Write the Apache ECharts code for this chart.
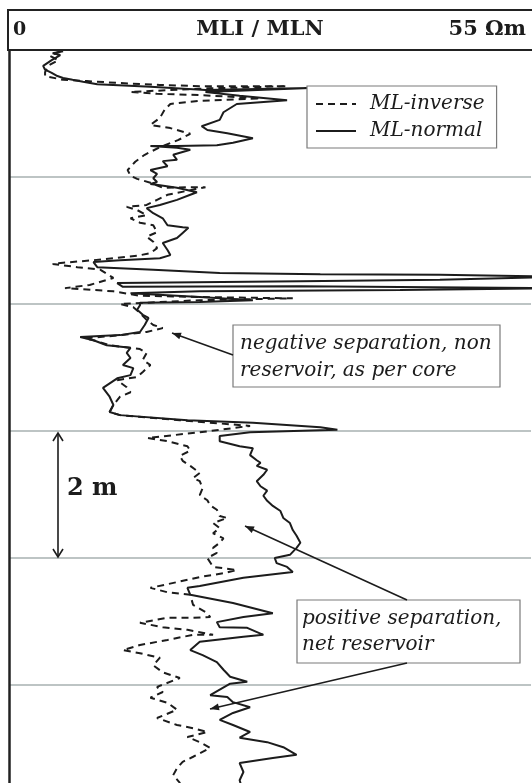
<!DOCTYPE html>
<html>
<head>
<meta charset="utf-8">
<script src="https://cdn.jsdelivr.net/npm/echarts@6/dist/echarts.min.js"></script>
<style>
  html, body { margin: 0; padding: 0; background: #fff; }
  #chart { width: 532px; height: 783px; }
</style>
</head>
<body>
<div id="chart"></div>
<script>
// Micro-resistivity log: ML-inverse (MLI) and ML-normal (MLN), 0-55 ohm.m, depth in metres from top of track
const trackMin = 0;
const trackMax = 55;
const depthTop = 0;
const depthBottom = 12;
const depthStep = 2;

const mlnDepth = [0.02,0.05,0.08,0.16,0.25,0.31,0.36,0.41,0.44,0.47,0.50,0.54,0.58,0.63,0.60,0.66,0.72,0.79,0.85,0.98,
  1.10,1.20,1.26,1.31,1.39,1.46,1.50,1.51,1.51,1.54,1.57,1.65,1.73,1.75,1.83,1.89,1.95,2.02,2.08,2.11,
  2.13,2.17,2.24,2.28,2.36,2.44,2.49,2.57,2.65,2.76,2.79,2.80,2.88,2.96,3.04,3.15,3.23,3.28,3.31,3.34,
  3.42,3.46,3.51,3.53,3.54,3.57,3.62,3.64,3.67,3.73,3.72,3.75,3.78,3.80,3.83,3.89,3.94,3.97,3.98,4.02,
  4.09,4.17,4.22,4.33,4.44,4.49,4.52,4.57,4.65,4.69,4.77,4.85,4.96,5.01,5.12,5.17,5.32,5.46,5.59,5.70,
  5.75,5.83,5.87,5.94,5.98,6.02,6.08,6.16,6.24,6.27,6.38,6.46,6.50,6.55,6.61,6.69,6.79,6.87,6.94,7.02,
  7.10,7.18,7.26,7.37,7.45,7.56,7.65,7.76,7.84,7.95,8.00,8.08,8.14,8.22,8.31,8.44,8.47,8.58,8.71,8.87,
  8.93,9.01,9.09,9.10,9.21,9.24,9.32,9.45,9.53,9.64,9.76,9.87,9.95,9.98,10.16,10.19,10.27,10.35,10.44,10.55,
  10.63,10.74,10.83,10.90,10.98,11.10,11.15,11.23,11.37,11.50,11.65];
const mlnValue = [5.7,4.6,5.4,4.5,3.6,3.8,4.5,5.1,5.7,6.7,7.8,9.3,14.9,20.7,31.7,20.7,24.3,29.3,24.0,22.6,
  22.2,20.3,20.9,23.0,25.7,23.6,21.9,17.7,14.9,17.7,19.1,17.3,17.7,16.2,16.7,14.9,15.6,15.2,15.6,14.9,
  15.9,17.7,19.8,19.1,17.7,15.9,14.5,15.2,16.2,16.7,18.3,18.9,18.3,17.7,16.2,16.7,17.0,15.9,11.7,8.9,
  9.3,15.2,22.2,32.8,45.4,58.0,45.4,30.7,11.4,12.0,30.7,58.0,41.2,20.1,12.8,20.1,25.7,20.1,13.8,13.8,
  13.5,14.1,14.7,14.3,13.8,11.7,7.5,8.9,10.3,12.8,12.4,12.8,12.0,13.1,12.8,11.4,9.9,10.6,11.0,10.6,
  11.7,18.8,25.7,32.8,34.6,25.4,22.2,22.2,24.3,25.7,25.4,26.1,26.5,26.1,27.2,26.8,26.1,26.5,27.2,26.8,
  27.2,27.8,28.6,28.9,29.6,29.9,30.3,30.7,30.3,29.6,28.0,28.2,29.3,29.9,24.7,20.1,18.8,19.1,23.6,27.8,
  24.7,21.9,22.2,25.1,26.8,24.7,20.1,19.1,20.4,21.9,22.6,23.3,25.1,23.3,21.2,23.0,23.6,25.4,23.6,22.2,
  23.6,25.4,24.3,27.2,28.9,30.3,27.8,24.3,24.7,24.3,24.6];

const mliDepth = [0.02,0.09,0.16,0.25,0.35,0.41,0.47,0.49,0.52,0.55,0.57,0.57,0.57,0.61,0.66,0.69,0.71,0.76,0.80,0.85,
  0.94,1.07,1.18,1.23,1.32,1.42,1.53,1.65,1.76,1.89,1.98,2.03,2.09,2.17,2.16,2.16,2.28,2.36,2.44,2.47,
  2.52,2.60,2.65,2.72,2.76,2.87,2.94,3.02,3.12,3.20,3.24,3.31,3.35,3.37,3.42,3.46,3.59,3.70,3.75,3.80,
  3.87,3.89,3.91,3.94,3.97,4.00,4.05,4.14,4.25,4.33,4.38,4.44,4.49,4.54,4.58,4.65,4.71,4.77,4.88,4.96,
  5.07,5.15,5.20,5.31,5.39,5.46,5.59,5.70,5.75,5.83,5.92,6.02,6.11,6.16,6.24,6.31,6.39,6.47,6.55,6.66,
  6.74,6.79,6.90,7.01,7.09,7.17,7.24,7.34,7.37,7.45,7.53,7.61,7.69,7.76,7.84,7.92,8.00,8.14,8.19,8.24,
  8.30,8.38,8.47,8.54,8.58,8.74,8.87,8.93,8.94,8.94,9.02,9.09,9.13,9.21,9.21,9.29,9.37,9.45,9.50,9.57,
  9.69,9.80,9.89,10.03,10.11,10.20,10.28,10.39,10.52,10.63,10.68,10.74,10.82,10.90,10.99,11.13,11.21,11.31,11.42,11.54,
  11.65];
const mliValue = [5.4,4.3,5.2,4.1,3.8,3.8,5.7,8.2,11.7,15.9,20.1,25.7,29.3,20.1,12.8,15.6,20.1,26.5,20.1,17.0,
  16.4,15.9,14.9,17.0,19.1,17.8,15.9,14.3,13.3,12.5,12.8,13.5,14.9,16.2,18.8,20.7,16.7,15.6,14.5,12.4,
  13.5,14.5,12.8,13.8,15.2,15.6,14.5,15.2,15.6,14.9,13.5,8.9,5.7,4.6,7.2,9.6,11.0,8.5,5.9,11.0,
  13.8,20.1,29.9,20.1,15.9,11.7,13.1,13.8,14.5,15.2,16.2,14.5,11.9,8.0,9.1,10.6,13.8,14.5,14.1,14.9,
  14.1,13.5,11.4,12.4,12.8,11.7,11.0,10.6,11.7,18.0,25.4,20.1,14.6,16.7,18.8,19.1,18.0,18.3,19.1,20.1,
  19.4,20.1,20.4,20.1,20.9,21.2,21.9,22.2,23.0,21.5,22.2,21.5,22.6,22.2,21.5,21.9,20.9,21.5,24.0,22.6,
  20.1,17.7,14.9,16.7,19.1,19.4,20.9,21.2,19.4,16.7,13.8,16.2,18.8,21.5,19.4,16.7,13.8,12.0,13.8,15.9,
  15.2,16.2,18.0,15.6,16.2,14.9,16.7,17.7,15.6,17.7,19.4,20.9,18.8,20.1,21.2,19.4,18.3,17.7,17.3,18.0,
  17.8];

const seriesNames = ['ML-inverse', 'ML-normal'];
const headerLeft = '0';
const headerTitle = 'MLI / MLN';
const headerRight = '55 Ωm';
const scaleLabel = '2 m';
const noteNegative = ['negative separation, non', 'reservoir, as per core'];
const notePositive = ['positive separation,', 'net reservoir'];

const pairs = (vals, depths) => vals.map((v, i) => [v, depths[i]]);

const serif = "'DejaVu Serif', 'Liberation Serif', serif";
const ink = '#1c1c1c';

const chart = echarts.init(document.getElementById('chart'), null, { renderer: 'canvas' });

const gridLeft = 9, gridTop = 50, gridWidth = 522, gridHeight = 762;

function arrowHead(tipX, tipY, fromX, fromY, len, half) {
  const ang = Math.atan2(tipY - fromY, tipX - fromX);
  const bx = tipX - len * Math.cos(ang), by = tipY - len * Math.sin(ang);
  const px = -Math.sin(ang) * half, py = Math.cos(ang) * half;
  return [[tipX, tipY], [bx + px, by + py], [bx - px, by - py]];
}

function noteArrow(x1, y1, x2, y2) {
  return [
    { type: 'line', shape: { x1, y1, x2, y2 }, style: { stroke: ink, lineWidth: 1.6 }, z: 20 },
    { type: 'polygon', shape: { points: arrowHead(x2, y2, x1, y1, 9, 3.5) }, style: { fill: ink }, z: 20 }
  ];
}

function noteBox(x, y, w, h, lines, tx, lineGap, size) {
  const els = [{ type: 'rect', shape: { x, y, width: w, height: h },
    style: { fill: '#fff', stroke: '#7a7a7a', lineWidth: 1.2 }, z: 18 }];
  lines.forEach((t, i) => {
    els.push({ type: 'text', x: tx, y: y + 19 + i * lineGap, z: 19,
      style: { text: t, font: 'italic ' + size + 'px ' + serif, fill: ink, textVerticalAlign: 'middle' } });
  });
  return els;
}

const graphics = [
  // header panel
  { type: 'rect', shape: { x: 8, y: 10, width: 540, height: 40 }, style: { fill: '#fff', stroke: '#222', lineWidth: 2 }, z: 30 },
  { type: 'text', x: 13, y: 30, z: 31, style: { text: headerLeft, font: 'bold 19px ' + serif, fill: ink, textVerticalAlign: 'middle' } },
  { type: 'text', x: 260, y: 30, z: 31, style: { text: headerTitle, font: 'bold 21px ' + serif, fill: ink, textAlign: 'center', textVerticalAlign: 'middle' } },
  { type: 'text', x: 526, y: 30, z: 31, style: { text: headerRight, font: 'bold 21px ' + serif, fill: ink, textAlign: 'right', textVerticalAlign: 'middle' } },
  // 2 m scale bar
  { type: 'line', shape: { x1: 58, y1: 433, x2: 58, y2: 557 }, style: { stroke: ink, lineWidth: 1.6 }, z: 20 },
  { type: 'polyline', shape: { points: [[53, 441], [58, 433], [63, 441]] }, style: { stroke: ink, lineWidth: 1.6, fill: null }, z: 20 },
  { type: 'polyline', shape: { points: [[53, 549], [58, 557], [63, 549]] }, style: { stroke: ink, lineWidth: 1.6, fill: null }, z: 20 },
  { type: 'text', x: 67, y: 489, z: 20, style: { text: scaleLabel, font: 'bold 24px ' + serif, fill: ink, textVerticalAlign: 'middle' } },
  ...noteBox(233, 325, 267, 62, noteNegative, 240, 27, 20),
  ...noteArrow(233, 355, 172, 333),
  ...noteBox(297, 600, 223, 63, notePositive, 302, 26, 20),
  ...noteArrow(407, 600, 245, 526),
  ...noteArrow(407, 663, 210, 709)
];

chart.setOption({
  animation: false,
  backgroundColor: '#fff',
  grid: { left: gridLeft, top: gridTop, width: gridWidth, height: gridHeight, containLabel: false, outerBoundsMode: 'none' },
  legend: {
    orient: 'vertical',
    left: 307, top: 86,
    padding: [8, 12, 7, 8],
    itemGap: 7,
    itemWidth: 40, itemHeight: 14,
    backgroundColor: '#fff',
    borderColor: '#7a7a7a', borderWidth: 1.2,
    itemStyle: { opacity: 0 },
    textStyle: { fontFamily: serif, fontStyle: 'italic', fontSize: 20, color: ink, padding: [0, 0, 0, 9] },
    data: seriesNames,
    z: 18
  },
  xAxis: {
    type: 'value', min: trackMin, max: trackMax, position: 'top',
    axisLine: { show: false }, axisTick: { show: false }, axisLabel: { show: false }, splitLine: { show: false }
  },
  yAxis: {
    type: 'value', inverse: true, min: depthTop, max: depthBottom, interval: depthStep,
    axisLine: { show: true, lineStyle: { color: '#222', width: 2.5 } },
    axisTick: { show: false }, axisLabel: { show: false },
    splitLine: { show: true, lineStyle: { color: '#a7b0b0', width: 1.5 } }
  },
  series: [
    {
      name: seriesNames[0], type: 'line', data: pairs(mliValue, mliDepth),
      symbol: 'none', clip: true, smooth: false,
      lineStyle: { color: ink, width: 2, type: [7, 5] }, itemStyle: { color: ink }, z: 5
    },
    {
      name: seriesNames[1], type: 'line', data: pairs(mlnValue, mlnDepth),
      symbol: 'none', clip: true, smooth: false,
      lineStyle: { color: ink, width: 2 }, itemStyle: { color: ink }, z: 6
    }
  ],
  graphic: graphics
});
</script>
</body>
</html>
